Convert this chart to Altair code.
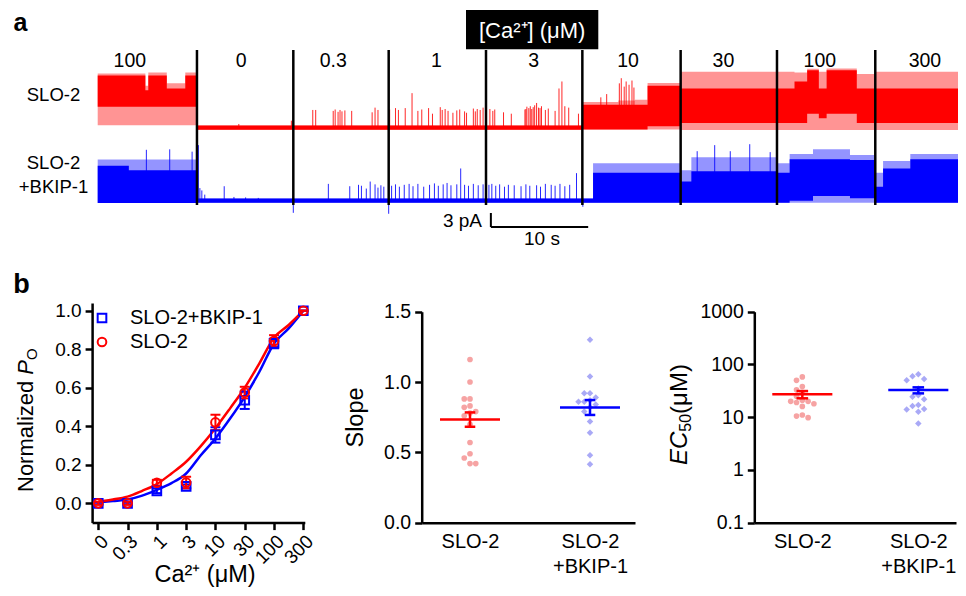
import altair as alt
import pandas as pd
import math

FONT = "Liberation Sans"
RED, BLUE = "#ff0000", "#0000ff"
LRED, LBLUE = "#f6a3a3", "#a9a9f6"

# ---------------- panel a : traces (pA, s) ----------------
seg_edges = [10.2, 20.1, 29.9, 39.9, 49.8, 59.9, 69.8, 79.9]
conc_labels = ["100", "0", "0.3", "1", "3", "10", "30", "100", "300"]
conc_label_t = [3.3, 14.75, 24.2, 34.8, 44.8, 54.5, 64.3, 74.2, 85.0]

red_t = [0.0, 4.9, 5.2, 7.1, 9.0, 10.2, 49.8, 53.5, 55.2, 56.5, 59.9, 71.6, 72.9, 74.1, 74.9, 78.0, 79.9, 88.4]
red_lo = [0.5, 0.5, 0.5, 0.5, 0.5, -0.45, -0.4, -0.4, -0.4, -0.4, -0.5, -0.5, -0.5, -0.5, -0.5, -0.5, -0.5, -0.5]
red_dlo = [4.5, 4.5, 4.5, 4.5, 4.5, -0.45, -0.4, -0.4, -0.4, 0.3, 1.0, 1.0, 3.0, 2.0, 3.0, 1.0, 1.0, 1.0]
red_dhi = [11.2, 8.0, 11.2, 8.4, 11.2, 0.45, 4.9, 4.9, 4.9, 9.0, 8.4, 9.9, 12.3, 8.4, 12.3, 8.4, 8.4, 8.4]
red_hi = [11.6, 9.0, 11.8, 9.5, 11.8, 0.45, 5.5, 5.8, 6.0, 9.6, 12.0, 11.8, 12.6, 12.0, 12.7, 11.5, 12.0, 12.0]

blue_t = [0.0, 3.2, 10.2, 50.9, 59.9, 61.0, 69.8, 71.1, 73.5, 77.3, 79.9, 80.7, 83.5, 88.4]
blue_lo = [-0.5, -0.5, -0.45, -0.45, -0.45, -0.45, -0.45, -0.45, -0.45, -0.45, -0.45, -0.45, -0.45, -0.45]
blue_dlo = [-0.5, -0.5, -0.45, -0.45, -0.45, -0.45, -0.45, 0.0, 1.0, 0.5, -0.45, -0.45, -0.45, -0.45]
blue_dhi = [7.5, 6.5, 0.45, 6.0, 4.1, 6.3, 6.0, 8.9, 8.9, 8.7, 3.0, 6.9, 8.9, 8.9]
blue_hi = [8.8, 8.8, 0.45, 8.0, 6.5, 9.3, 8.0, 10.0, 11.0, 9.8, 6.0, 8.5, 10.0, 10.0]

red_spike_t = [14.5, 19.9, 22.1, 22.4, 24.2, 24.4, 24.7, 24.9, 25.1, 25.4, 26.1, 28.2, 28.5, 28.8, 29.9,
               30.0, 30.6, 30.9, 31.6, 32.3, 32.9, 33.3, 34.0, 34.4, 35.2, 35.4, 35.7, 36.0, 36.5, 36.9,
               37.2, 37.7, 37.9, 38.6, 38.8, 39.0, 39.3, 39.6,
               40.3, 40.6, 40.8, 41.7, 42.5, 43.9, 44.0, 44.1, 44.3, 44.45, 44.6, 44.75, 44.9, 45.1, 45.3,
               45.45, 45.6, 46.0, 46.3, 47.0, 47.4, 47.7, 48.0, 48.4, 49.4,
               51.7, 52.3, 53.6, 53.8, 54.1, 54.3, 54.6, 54.9, 55.1]
red_spike_h = [0.8, 1.5, 3.8, 3.8, 3.6, 3.9, 3.4, 3.8, 3.5, 3.7, 3.6, 3.3, 4.3, 3.8, -2.6,
               3.9, 4.2, 3.8, 4.2, 7.4, 3.6, 3.9, 4.2, 3.0, 4.4, 3.8, 4.0, 3.6, 3.2, 3.7,
               3.9, 3.5, 3.2, 4.1, 3.5, 4.0, 3.8, 4.3,
               4.0, 3.6, 3.9, 3.3, 3.0, 3.9, 4.0, 4.5, 4.2, 4.6, 4.0, 4.4, 4.8, 5.3, 4.3,
               4.2, 4.6, 3.8, 4.1, 3.6, 8.4, 9.9, 4.6, 4.3, 3.0,
               6.5, 7.2, 9.5, 10.6, 8.8, 9.9, 9.2, 10.1, 8.6]

blue_spike_t = [5.0, 7.4, 9.7, 10.35, 10.5, 10.7, 11.0, 13.0, 14.0, 15.2, 16.5, 20.1, 23.7, 25.9, 26.8,
                27.1, 27.6, 28.0, 28.5, 28.8, 29.1, 29.4, 29.9,
                30.2, 30.6, 31.0, 31.5, 32.0, 32.4, 32.9, 33.5, 34.1, 34.6, 35.0, 35.5, 35.9, 36.3, 36.9,
                37.3, 37.7, 38.1, 38.6, 39.1, 39.6,
                40.2, 40.5, 40.9, 41.3, 41.8, 42.2, 42.8, 43.5, 44.0, 44.4, 45.1, 45.5, 46.0, 46.6, 47.0,
                47.5, 48.0, 48.5, 49.2, 49.85, 61.6, 63.4, 65.0, 67.0, 69.1]
blue_spike_h = [10.9, 11.0, 10.5, 11.9, 2.7, 2.2, 1.3, 3.1, 0.8, 0.7, 0.6, -2.6, 3.6, 3.1, 3.4,
                3.2, 2.6, 4.1, 3.5, 2.8, 3.3, 3.0, -2.8,
                3.2, 3.5, 3.0, 3.4, 3.6, 3.1, 3.6, 3.0, 3.4, 3.7, 3.2, 3.5, 3.8, 3.3, 3.5,
                6.9, 3.4, 3.2, 3.6, 3.3, 3.5,
                3.4, 3.6, 3.2, 3.5, 3.0, 3.4, 3.3, 3.1, 3.5, 3.2, 3.3, 3.0, 3.6, 3.4, 3.2,
                3.6, 3.1, 3.4, 5.9, -1.3, 10.6, 11.9, 10.6, 12.1, 10.4]

RED_OFFSET = 15.63  # vertical offset of the SLO-2 trace (pA)
scalebar_t0, scalebar_i0, scalebar_dt, scalebar_di = 40.4, -5.63, 10.0, 3.0

# ---------------- panel b : dose response ----------------
conc = ["0", "0.3", "1", "3", "10", "30", "100", "300"]
red_po = [0.0, 0.0, 0.107, 0.108, 0.42, 0.575, 0.843, 1.0]
red_err = [0.008, 0.008, 0.015, 0.03, 0.04, 0.03, 0.03, 0.0]
blue_po = [0.0, 0.0, 0.065, 0.088, 0.355, 0.535, 0.83, 1.0]
blue_err = [0.005, 0.005, 0.012, 0.01, 0.04, 0.045, 0.025, 0.0]

curve_x = [0, 0.5, 1, 1.5, 2, 2.5, 3, 3.5, 4, 4.5, 5, 5.5, 6, 6.5, 7]
red_curve = [0.01, 0.02, 0.035, 0.065, 0.10, 0.155, 0.216, 0.297, 0.39, 0.493, 0.60, 0.727, 0.86, 0.926, 1.0]
blue_curve = [0.005, 0.012, 0.02, 0.04, 0.07, 0.105, 0.155, 0.25, 0.337, 0.44, 0.553, 0.683, 0.83, 0.908, 1.0]

groups = ["SLO-2", "SLO-2+BKIP-1"]
slope_red = [1.16, 1.0, 0.88, 0.88, 0.83, 0.82, 0.79, 0.78, 0.76, 0.70, 0.57, 0.49, 0.46, 0.42, 0.42]
slope_blue = [1.30, 1.04, 0.92, 0.92, 0.89, 0.87, 0.86, 0.86, 0.84, 0.82, 0.79, 0.72, 0.64, 0.48, 0.415]
slope_mean = [0.733, 0.819]
slope_lo = [0.682, 0.766]
slope_hi = [0.784, 0.872]

ec_red = [58, 50, 38, 33, 29, 25, 21, 20, 20, 19, 18, 16, 11, 10.5, 9.8]
ec_blue = [65, 60, 53, 50, 35, 26, 24.5, 22, 17, 16.3, 14.3, 14, 12.7, 7.6]
ec_mean = [27.1, 32.7]
ec_lo = [22.8, 28.3]
ec_hi = [31.3, 36.8]

# ---------------- scales (pixel ranges inside the 950x580 frame) ----------------
W, H = 950, 580
TX = dict(domain=[0, 88.4], range=[89.7, 950])
TY = dict(domain=[-2, 33], range=[202.04, 38.59])
B1X = dict(domain=[-0.21, 7.05], range=[84.1, 296.8])
B1Y = dict(domain=[-0.1, 1.04], range=[514.6, 295.0])
B2X = dict(domain=[-0.4025, 1.375], range=[413.7, 627.0])
B2Y = dict(domain=[0, 1.5], range=[514.7, 303.7])
B3X = dict(domain=[-0.414, 1.325], range=[746.3, 948.0])
B3Y = dict(domain=[0.1, 1000], range=[514.7, 303.7], type="log")


def X(d, f, axis=None):
    return alt.X(f, type="quantitative", scale=alt.Scale(nice=False, zero=False, **d), axis=axis)


def Y(d, f, axis=None):
    return alt.Y(f, type="quantitative", scale=alt.Scale(nice=False, zero=False, **d), axis=axis)


AX = dict(domainColor="black", domainWidth=2.5, tickColor="black", tickWidth=2.5,
          labelColor="black", labelFont=FONT, grid=False, title=None, labelOverlap=False)

layers = []
one = pd.DataFrame({"k": [0]})


# ---- traces
def trace_layers(t, lo, dlo, dhi, hi, sp_t, sp_h, off, color):
    df = pd.DataFrame({"t": t, "lo": [v + off for v in lo], "dlo": [v + off for v in dlo],
                       "dhi": [v + off for v in dhi], "hi": [v + off for v in hi]})
    sp = pd.DataFrame({"t": sp_t, "b": [off] * len(sp_t), "h": [v + off for v in sp_h]})
    return [
        alt.Chart(df).mark_area(interpolate="step-after", color=color, opacity=0.42)
        .encode(x=X(TX, "t"), y=Y(TY, "lo"), y2="hi"),
        alt.Chart(df).mark_area(interpolate="step-after", color=color, opacity=1)
        .encode(x=X(TX, "t"), y=Y(TY, "dlo"), y2="dhi"),
        alt.Chart(sp).mark_rule(color=color, strokeWidth=1, opacity=0.85)
        .encode(x=X(TX, "t"), y=Y(TY, "b"), y2="h"),
    ]


layers += trace_layers(red_t, red_lo, red_dlo, red_dhi, red_hi, red_spike_t, red_spike_h, RED_OFFSET, RED)
layers += trace_layers(blue_t, blue_lo, blue_dlo, blue_dhi, blue_hi, blue_spike_t, blue_spike_h, 0.0, BLUE)

layers.append(alt.Chart(pd.DataFrame({"t": seg_edges})).mark_rule(color="black", strokeWidth=2.5)
              .encode(x=X(TX, "t"), y=alt.value(42), y2=alt.value(197)))
layers.append(alt.Chart(pd.DataFrame({"t": conc_label_t, "lab": conc_labels}))
              .mark_text(font=FONT, fontSize=19.5, baseline="middle", color="black")
              .encode(x=X(TX, "t"), y=alt.value(52.5), text="lab:N"))

sb = pd.DataFrame({"t0": [scalebar_t0, scalebar_t0], "t1": [scalebar_t0, scalebar_t0 + scalebar_dt],
                   "i0": [scalebar_i0, scalebar_i0], "i1": [scalebar_i0 + scalebar_di, scalebar_i0]})
layers.append(alt.Chart(sb).mark_rule(color="black", strokeWidth=2)
              .encode(x=X(TX, "t0"), x2="t1", y=Y(TY, "i0"), y2="i1"))


def txt(text, x, y, size, align="center", baseline="alphabetic", angle=0, color="black",
        style="normal", weight="normal"):
    return alt.Chart(one).mark_text(text=text, font=FONT, fontSize=size, align=align, baseline=baseline,
                                    angle=angle, color=color, fontStyle=style, fontWeight=weight
                                    ).encode(x=alt.value(x), y=alt.value(y))


layers.append(alt.Chart(one).mark_rect(color="black")
              .encode(x=alt.value(458), x2=alt.value(590.3), y=alt.value(2), y2=alt.value(41.3)))
layers.append(txt("[Ca²⁺] (μM)", 524.2, 29.5, 22, color="white"))
layers.append(txt("SLO-2", 45.5, 87, 18.5, baseline="middle"))
layers.append(txt("SLO-2", 45.5, 155, 18.5, baseline="middle"))
layers.append(txt("+BKIP-1", 45.5, 179, 18.5, baseline="middle"))
layers.append(txt("3 pA", 474, 213, 19, align="right", baseline="middle"))
layers.append(txt("10 s", 534, 230.5, 19, baseline="middle"))
layers.append(txt("a", 12.5, 22.5, 25, weight="bold"))
layers.append(txt("b", 13.5, 285, 27, weight="bold"))

# ---- b1: dose response
idx = list(range(len(conc)))
b1x_axis = alt.Axis(orient="bottom", offset=B1Y["range"][0] - H, values=idx,
                    labelExpr="['0','0.3','1','3','10','30','100','300'][datum.value]",
                    labelAngle=315, tickSize=7, labelPadding=2, labelFontSize=19, **AX)
b1y_axis = alt.Axis(orient="left", offset=-B1X["range"][0], values=[0, 0.2, 0.4, 0.6, 0.8, 1.0],
                    format=".1f", tickSize=7, labelPadding=4, labelFontSize=19, **AX)

layers.append(alt.Chart(pd.DataFrame({"x": [0], "y": [0]})).mark_point(opacity=0)
              .encode(x=X(B1X, "x", b1x_axis), y=Y(B1Y, "y", b1y_axis)))

for cv, col in ((blue_curve, BLUE), (red_curve, RED)):
    layers.append(alt.Chart(pd.DataFrame({"x": curve_x, "y": cv}))
                  .mark_line(interpolate="monotone", color=col, strokeWidth=2.5)
                  .encode(x=X(B1X, "x"), y=Y(B1Y, "y")))

for po, er, col in ((blue_po, blue_err, BLUE), (red_po, red_err, RED)):
    d = pd.DataFrame({"x": idx, "lo": [p - e for p, e in zip(po, er)], "hi": [p + e for p, e in zip(po, er)]})
    d["xl"] = d["x"] - 0.17
    d["xr"] = d["x"] + 0.17
    layers.append(alt.Chart(d).mark_rule(color=col, strokeWidth=2)
                  .encode(x=X(B1X, "x"), y=Y(B1Y, "lo"), y2="hi"))
    for k in ("lo", "hi"):
        layers.append(alt.Chart(d).mark_rule(color=col, strokeWidth=2)
                      .encode(x=X(B1X, "xl"), x2="xr", y=Y(B1Y, k)))

pts = pd.DataFrame({"x": idx * 2, "y": blue_po + red_po,
                    "s": ["SLO-2+BKIP-1"] * len(idx) + ["SLO-2"] * len(idx)})
leg = dict(orient="none", legendX=84, legendY=300, title=None, labelFontSize=20, labelFont=FONT,
           labelColor="black", symbolSize=75, symbolStrokeWidth=2, labelOffset=18, rowPadding=4)
layers.append(alt.Chart(pts).mark_point(filled=False, size=75, strokeWidth=2, opacity=1)
              .encode(x=X(B1X, "x"), y=Y(B1Y, "y"),
                      color=alt.Color("s:N", scale=alt.Scale(domain=["SLO-2+BKIP-1", "SLO-2"], range=[BLUE, RED]),
                                      legend=alt.Legend(**leg)),
                      shape=alt.Shape("s:N", scale=alt.Scale(domain=["SLO-2+BKIP-1", "SLO-2"],
                                                             range=["square", "circle"]),
                                      legend=alt.Legend(**leg))))

layers.append(txt("Normalized", 25, 484, 22, align="left", angle=270))
layers.append(txt("P", 25, 366.7, 22, align="left", angle=270, style="italic"))
layers.append(txt("O", 28.5, 352, 15, align="left", angle=270))
layers.append(txt("Ca²⁺ (μM)", 197, 574, 23.5))

# ---- b2 / b3 scatter panels
cat_expr = "datum.value == 0 ? 'SLO-2' : ['SLO-2', '+BKIP-1']"


def swarm(vals, thresh, slot):
    order = sorted(range(len(vals)), key=lambda i: -vals[i])
    placed, offs = [], [0.0] * len(vals)
    for i in order:
        v = vals[i]
        for k in (0, -1, 1, -2, 2, -3, 3, -4, 4):
            if all(pk != k or abs(v - pv) >= thresh for pv, pk in placed):
                break
        placed.append((v, k))
        offs[i] = k * slot
    return offs


def scatter_panel(SX, SY, red_vals, blue_vals, mean, lo, hi, yvals, fmt_expr, half, cap, slot, thresh, logy):
    xa = alt.Axis(orient="bottom", offset=SY["range"][0] - H, values=[0, 1], labelExpr=cat_expr,
                  ticks=False, tickSize=0, labelPadding=9, labelFontSize=20, labelLineHeight=25, **AX)
    ya = alt.Axis(orient="left", offset=-SX["range"][0], values=yvals, labelExpr=fmt_expr,
                  tickSize=7, labelPadding=4, labelFontSize=19.5, **AX)
    out = [alt.Chart(pd.DataFrame({"x": [0], "y": [yvals[1]]})).mark_point(opacity=0)
           .encode(x=X(SX, "x", xa), y=Y(SY, "y", ya))]
    for gi, vals in enumerate((red_vals, blue_vals)):
        key = [math.log10(v) for v in vals] if logy else vals
        offs = swarm(key, thresh, slot)
        d = pd.DataFrame({"x": [gi + o for o in offs], "y": vals})
        if gi == 0:
            m = alt.Chart(d).mark_circle(size=32, color=LRED, opacity=1)
        else:
            m = alt.Chart(d).mark_point(shape="diamond", filled=True, size=42, color=LBLUE, opacity=1)
        out.append(m.encode(x=X(SX, "x"), y=Y(SY, "y")))
    for gi, col in enumerate((RED, BLUE)):
        s = pd.DataFrame({"x": [gi], "m": [mean[gi]], "lo": [lo[gi]], "hi": [hi[gi]],
                          "ml": [gi - half], "mr": [gi + half], "cl": [gi - cap], "cr": [gi + cap]})
        out.append(alt.Chart(s).mark_rule(color=col, strokeWidth=2.5)
                   .encode(x=X(SX, "ml"), x2="mr", y=Y(SY, "m")))
        out.append(alt.Chart(s).mark_rule(color=col, strokeWidth=2.5)
                   .encode(x=X(SX, "x"), y=Y(SY, "lo"), y2="hi"))
        for k in ("lo", "hi"):
            out.append(alt.Chart(s).mark_rule(color=col, strokeWidth=2.5)
                       .encode(x=X(SX, "cl"), x2="cr", y=Y(SY, k)))
    return out


layers += scatter_panel(B2X, B2Y, slope_red, slope_blue, slope_mean, slope_lo, slope_hi,
                        [0, 0.5, 1.0, 1.5], "format(datum.value, '.1f')", 0.25, 0.044, 0.048, 0.045, False)
layers += scatter_panel(B3X, B3Y, ec_red, ec_blue, ec_mean, ec_lo, ec_hi,
                        [0.1, 1, 10, 100, 1000], "datum.value < 1 ? '0.1' : format(datum.value, 'd')",
                        0.259, 0.05, 0.05, 0.114, True)

layers.append(txt("Slope", 355, 409.5, 23.5, angle=270))
layers.append(txt("EC", 678.7, 457, 24, align="left", angle=270, style="italic"))
layers.append(txt("50", 682.7, 423.7, 16, align="left", angle=270))
layers.append(txt("(μM)", 678.7, 405.9, 24, align="left", angle=270))

chart = (alt.layer(*layers)
         .resolve_scale(x="independent", y="independent")
         .properties(width=W, height=H, autosize=alt.AutoSizeParams(type="none"), padding=0)
         .configure(font=FONT, view=alt.ViewConfig(stroke=None, strokeWidth=0)))

chart.save("out.html", embed_options={"renderer": "svg", "actions": False})
